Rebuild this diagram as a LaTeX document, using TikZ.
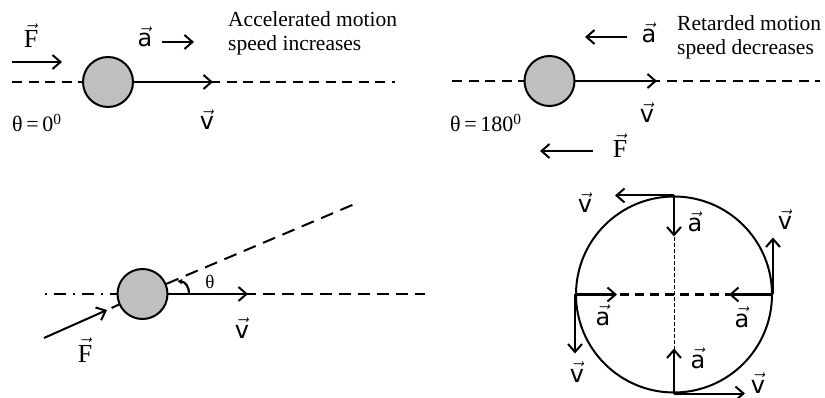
\documentclass[tikz,border=0pt]{standalone}
\usepackage{fontspec}
\setmainfont{Liberation Serif}
\newfontfamily\vfont{DejaVu Sans}
\usetikzlibrary{arrows.meta}
\newcommand{\vv}[1]{$\vec{\hbox{\vfont #1}}$}
\newcommand{\vF}{$\vec{\hbox{F}}$}
\begin{document}
\begin{tikzpicture}[x=1pt,y=-1pt,
  ball/.style={circle, draw, line width=2pt, fill=black!25, minimum size=50pt, inner sep=0pt},
  vecarrow/.style={line width=2pt, -{Straight Barb[length=8pt,width=14pt,line width=2pt]}},
  dsh/.style={line width=2pt, dash pattern=on 10pt off 6.5pt},
  lab/.style={font=\fontsize{24}{28}\selectfont, inner sep=0pt, anchor=base},
  flab/.style={font=\fontsize{26}{30}\selectfont, inner sep=0pt, anchor=base},
  thlab/.style={font=\fontsize{22}{26}\selectfont, inner sep=0pt, anchor=base west},
  txt/.style={font=\fontsize{21.5}{25}\selectfont, inner sep=0pt, anchor=base west}]
\useasboundingbox (0,0) rectangle (825,398);

% ---------- top left: accelerated motion ----------
\draw[dsh] (12,82) -- (395,82);
\node[ball] (b1) at (108,82) {};
\coordinate (v1) at (213,82);
\draw[vecarrow] (b1.east) -- (v1);
\coordinate (f1s) at (12,62);
\coordinate (f1e) at (62,62);
\draw[vecarrow] (f1s) -- (f1e);
\coordinate (a1s) at (162,42);
\coordinate (a1e) at (194,42);
\draw[vecarrow] (a1s) -- (a1e);
\node[flab] (F1) at (31,48) {\vF};
\node[lab] (A1) at (145,47) {\vv{a}};
\node[lab] (V1) at (207,130) {\vv{v}};
\node[thlab] (T1) at (12,132) {θ\,=\,0\textsuperscript{0}};
\node[txt] (t1a) at (228,27) {Accelerated motion};
\node[txt] (t1b) at (228,51) {speed increases};

% ---------- top right: retarded motion ----------
\draw[dsh] (452,81) -- (820,81);
\node[ball] (b2) at (549.5,81) {};
\coordinate (v2) at (657,81);
\draw[vecarrow] (b2.east) -- (v2);
\coordinate (a2s) at (627,37);
\coordinate (a2e) at (585,37);
\draw[vecarrow] (a2s) -- (a2e);
\coordinate (f2s) at (593,151);
\coordinate (f2e) at (540,151);
\draw[vecarrow] (f2s) -- (f2e);
\node[lab] (A2) at (649,43) {\vv{a}};
\node[lab] (V2) at (647,123) {\vv{v}};
\node[flab] (F2) at (620,158) {\vF};
\node[thlab] (T2) at (450,132) {θ\,=\,180\textsuperscript{0}};
\node[txt] (t2a) at (677,31) {Retarded motion};
\node[txt] (t2b) at (677,55) {speed decreases};

% ---------- bottom left: general angle ----------
\draw[line width=2pt, dash pattern=on 2pt off 7pt on 12pt off 7pt] (45,294) -- (118,294);
\draw[line width=2pt, dash pattern=on 12pt off 7pt] (168,294) -- (425,294);
\node[ball] (b3) at (142.5,294) {};
\coordinate (inc) at (357,203);
\draw[line width=2pt, dash pattern=on 13pt off 8pt] (b3.23) -- (inc);
\coordinate (v3) at (248,294);
\draw[vecarrow] (b3.east) -- (v3);
\coordinate (f3s) at (44,338);
\coordinate (f3e) at (107,310);
\draw[vecarrow] (f3s) -- (f3e);
\coordinate (f3d) at (111.6,308);
\draw[line width=2pt] (f3d) -- (b3.204);
\draw[line width=2.2pt, -{Latex[length=5pt,width=6pt]}] (189,294) .. controls (189,286) and (185,282) .. (177,281);
\node[font=\fontsize{19}{22}\selectfont, inner sep=0pt, anchor=base] (th3) at (210,288) {θ};
\node[lab] (V3) at (242,338) {\vv{v}};
\node[flab] (F3) at (85,362) {\vF};

% ---------- bottom right: circular motion ----------
\node[circle, draw, line width=2pt, minimum size=196pt, inner sep=0pt] (c) at (674,294.5) {};
\draw[line width=2pt, dash pattern=on 9pt off 6pt] (c.west) -- (c.east);
\draw[line width=1pt, dash pattern=on 4pt off 2pt] (c.north) -- (c.south);
\draw[vecarrow] (c.north) -- ++(-59,0);
\draw[vecarrow] (c.north) -- ++(0,41);
\draw[vecarrow] (c.east) -- ++(0,-57);
\draw[vecarrow] (c.east) -- ++(-44,0);
\draw[vecarrow] (c.west) -- ++(42,0);
\draw[vecarrow] (c.west) -- ++(0,59);
\draw[vecarrow] (c.south) -- ++(0,-45);
\draw[vecarrow] (c.south) -- ++(71,0);
\node[lab] (cv1) at (585,213) {\vv{v}};
\node[lab] (ca1) at (695,232) {\vv{a}};
\node[lab] (cv2) at (785,230) {\vv{v}};
\node[lab] (ca2) at (603,325) {\vv{a}};
\node[lab] (ca3) at (742,327) {\vv{a}};
\node[lab] (cv3) at (577,382) {\vv{v}};
\node[lab] (ca4) at (698,368) {\vv{a}};
\node[lab] (cv4) at (758,393) {\vv{v}};
\end{tikzpicture}
\end{document}
